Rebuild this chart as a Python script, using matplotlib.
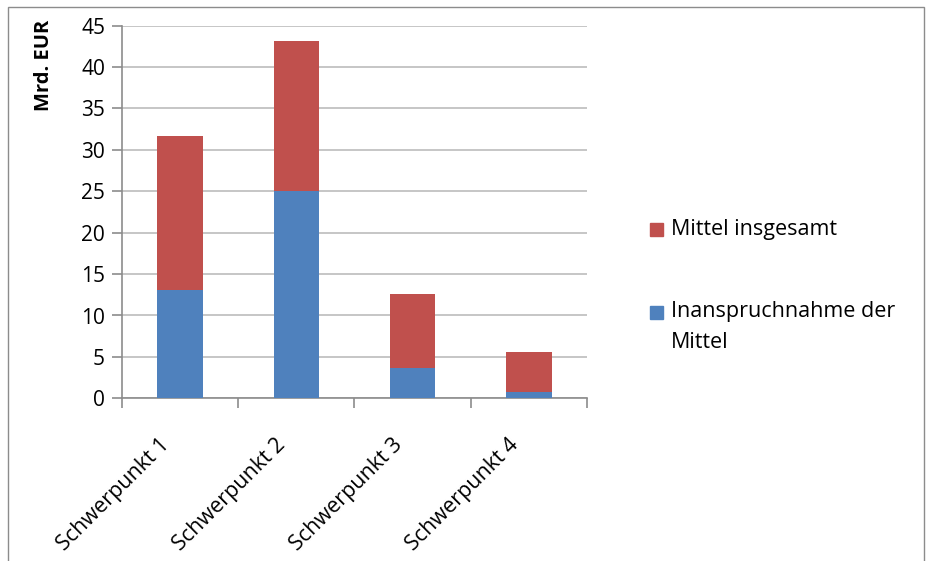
import matplotlib.pyplot as plt
import matplotlib.transforms as mtransforms
from matplotlib.patches import Rectangle

categories = ['Schwerpunkt 1', 'Schwerpunkt 2', 'Schwerpunkt 3', 'Schwerpunkt 4']
inanspruchnahme = [13.1, 25.0, 3.7, 0.8]
mittel_insgesamt = [18.6, 18.2, 8.9, 4.8]
yticks = [0, 5, 10, 15, 20, 25, 30, 35, 40, 45]

blue = '#4F81BD'
red = '#C0504D'

plt.rcParams['font.family'] = ['Open Sans', 'DejaVu Sans']

W, H = 933, 561
fig = plt.figure(figsize=(W / 100, H / 100), dpi=100)
ax = fig.add_axes([121.7 / W, 1 - 398.3 / H, (587 - 121.7) / W, (398.3 - 25.7) / H])

x = list(range(len(categories)))
ax.bar(x, inanspruchnahme, width=0.39, color=blue, zorder=3)
ax.bar(x, mittel_insgesamt, width=0.39, bottom=inanspruchnahme, color=red, zorder=3)

ax.set_xlim(-0.5, len(categories) - 0.5)
ax.set_ylim(0, 45)
ax.set_yticks(yticks)
ax.set_yticklabels([str(v) for v in yticks], fontsize=15)
ax.yaxis.grid(True, color='#bcbcbc', linewidth=1.2, zorder=0)
ax.set_xticks(x)
ax.set_xticklabels(categories, rotation=45, ha='right', rotation_mode='anchor', fontsize=15.5)
ax.tick_params(axis='x', length=0, pad=26)
# shift rotated category labels a little to the left
shift = mtransforms.ScaledTranslation(-21 / 100, 0, fig.dpi_scale_trans)
for lbl in ax.get_xticklabels():
    lbl.set_transform(lbl.get_transform() + shift)
ax.set_xticks([i - 0.5 for i in range(len(categories) + 1)], minor=True)
ax.tick_params(axis='x', which='minor', length=7, color='#8c8c8c', width=1.2)
ax.tick_params(axis='y', length=7, color='#8c8c8c', width=1.2, pad=5)
for side in ['top', 'right']:
    ax.spines[side].set_visible(False)
for side in ['left', 'bottom']:
    ax.spines[side].set_color('#8c8c8c')
    ax.spines[side].set_linewidth(1.2)

# axis title sits at the top of the value axis
fig.text(44 / W, 1 - 65 / H, 'Mrd. EUR', rotation=90, fontsize=14.5, fontweight='bold',
         ha='center', va='center')

# legend, series in reverse order as in the original
legend_items = [(red, ['Mittel insgesamt'], 229),
                (blue, ['Inanspruchnahme der', 'Mittel'], 312)]
for color, lines, yc in legend_items:
    fig.patches.append(Rectangle((650 / W, 1 - (yc + 6.5) / H), 13 / W, 13 / H,
                                 transform=fig.transFigure, color=color))
    for k, line in enumerate(lines):
        fig.text(671 / W, 1 - (yc + 30 * k) / H, line, fontsize=15.5,
                 ha='left', va='center')

fig.patches.append(Rectangle((8 / W, -0.1), (924 - 8) / W, 1.1 - 7 / H,
                             transform=fig.transFigure, fill=False,
                             edgecolor='#8c8c8c', linewidth=1))

fig.savefig('out.png', dpi=100)
